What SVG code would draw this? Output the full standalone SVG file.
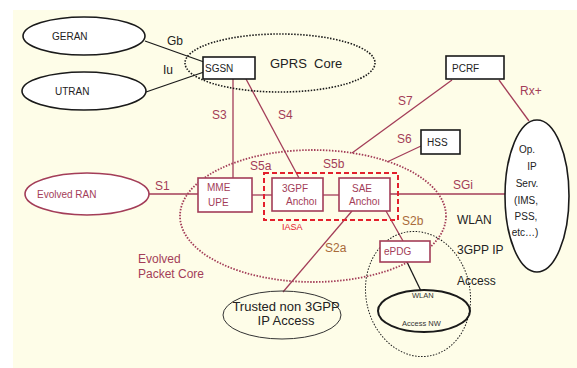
<svg xmlns="http://www.w3.org/2000/svg" width="577" height="368" viewBox="0 0 577 368">
<style>
text{font-family:"Liberation Sans",Arial,sans-serif;}
.blk{stroke:#1a1a1a;fill:#fff;stroke-width:1.6;}
.rbox{stroke:#a33d58;fill:#fff;stroke-width:1.6;}
.rl{stroke:#a33d58;stroke-width:1.3;fill:none;}
.bl{stroke:#1a1a1a;stroke-width:1.3;fill:none;}
.rt{fill:#a33d58;font-size:12px;}
.bt{fill:#222;font-size:10px;}
.ot{fill:#a86a3a;font-size:12px;}
</style>
<rect x="13" y="10" width="564" height="358" fill="#fefde8"/>
<g id="connectors">
<line class="bl" x1="145" y1="41" x2="204" y2="62"/>
<line class="bl" x1="146" y1="92" x2="204" y2="72"/>
<line class="rl" x1="233" y1="79" x2="233" y2="178"/>
<line class="rl" x1="246" y1="79" x2="299" y2="178"/>
<line class="rl" x1="148" y1="194" x2="198" y2="194"/>
<line class="rl" x1="252" y1="195" x2="272" y2="195"/>
<line class="rl" x1="323" y1="195" x2="339" y2="195"/>
<line class="rl" x1="390" y1="194" x2="506" y2="194"/>
<line class="rl" x1="452" y1="80" x2="352" y2="153"/>
<line class="rl" x1="421" y1="146" x2="387" y2="162"/>
<line class="rl" x1="499" y1="80" x2="529" y2="121"/>
<line class="rl" x1="352" y1="211" x2="283" y2="292"/>
<line class="rl" x1="386" y1="211" x2="403" y2="241"/>
<line class="bl" x1="407" y1="262" x2="421" y2="291"/>
<text class="bt" x="167" y="45" style="font-size:12px">Gb</text>
<text class="bt" x="163" y="74" style="font-size:12px">Iu</text>
<text class="rt" x="212" y="119">S3</text>
<text class="rt" x="278" y="119">S4</text>
<text class="rt" x="155" y="190">S1</text>
<text class="rt" x="250" y="170">S5a</text>
<text class="rt" x="323" y="168">S5b</text>
<text class="rt" x="398" y="105">S7</text>
<text class="rt" x="397" y="143">S6</text>
<text class="rt" x="520" y="95">Rx+</text>
<text class="rt" x="453" y="189">SGi</text>
<text class="ot" x="402" y="225">S2b</text>
<text class="ot" x="325" y="252">S2a</text>
</g>
<g id="gprs-core">
<ellipse cx="280" cy="63" rx="95" ry="29" fill="none" stroke="#1a1a1a" stroke-width="1.6" stroke-dasharray="1.5 1.5"/>
<text x="270" y="68" fill="#222" font-size="13" style="white-space:pre">GPRS  Core</text>
</g>
<g id="evolved-packet-core">
<ellipse cx="313" cy="216" rx="133" ry="66" fill="none" stroke="#a33d58" stroke-width="1.8" stroke-dasharray="1.5 1.5"/>
<text class="rt" x="138" y="263" font-size="12">Evolved</text>
<text class="rt" x="138" y="278" font-size="12">Packet Core</text>
</g>
<g id="wlan-area">
<ellipse cx="418" cy="294" rx="52" ry="63" transform="rotate(-12 418 294)" fill="none" stroke="#1a1a1a" stroke-width="1" stroke-dasharray="1.5 1.5"/>
</g>
<g id="geran">
<ellipse class="blk" cx="84" cy="36" rx="61" ry="19"/>
<text class="bt" x="52" y="40">GERAN</text>
</g>
<g id="utran">
<ellipse class="blk" cx="84" cy="91" rx="62" ry="19"/>
<text class="bt" x="55" y="95">UTRAN</text>
</g>
<g id="sgsn">
<rect class="blk" x="203" y="57" width="52" height="22"/>
<text class="bt" x="205" y="72">SGSN</text>
</g>
<g id="pcrf">
<rect class="blk" x="446" y="56" width="58" height="23"/>
<text class="bt" x="452" y="72">PCRF</text>
</g>
<g id="hss">
<rect class="blk" x="421" y="130" width="39" height="24"/>
<text class="bt" x="427" y="146">HSS</text>
</g>
<g id="op-ip-serv">
<ellipse class="blk" cx="537" cy="196" rx="32" ry="76"/>
<text class="bt" x="527" y="153" text-anchor="middle">Op.</text>
<text class="bt" x="532" y="170" text-anchor="middle">IP</text>
<text class="bt" x="527" y="187" text-anchor="middle">Serv.</text>
<text class="bt" x="526" y="204" text-anchor="middle">(IMS,</text>
<text class="bt" x="526" y="220" text-anchor="middle">PSS,</text>
<text class="bt" x="525" y="236" text-anchor="middle">etc…)</text>
</g>
<g id="evolved-ran">
<ellipse cx="87" cy="194" rx="62" ry="21" fill="#fff" stroke="#a33d58" stroke-width="1.6"/>
<text class="rt" x="37" y="198" font-size="10" style="font-size:10px">Evolved RAN</text>
</g>
<g id="mme-upe">
<rect class="rbox" x="198" y="178" width="54" height="34"/>
<text class="rt" x="207" y="191" style="font-size:10px">MME</text>
<text class="rt" x="208" y="206" style="font-size:10px">UPE</text>
</g>
<g id="iasa">
<rect x="264" y="173" width="134" height="47" fill="none" stroke="#e3202c" stroke-width="2" stroke-dasharray="5 3"/>
<text x="282" y="230" fill="#e3202c" font-size="9">IASA</text>
</g>
<g id="3gpf-anchor">
<rect class="rbox" x="272" y="178" width="51" height="33"/>
<text class="rt" x="282" y="192" style="font-size:10px">3GPF</text>
<text class="rt" x="286" y="205" style="font-size:10px">Anchoı</text>
</g>
<g id="sae-anchor">
<rect class="rbox" x="339" y="178" width="51" height="33"/>
<text class="rt" x="352" y="192" style="font-size:10px">SAE</text>
<text class="rt" x="349" y="205" style="font-size:10px">Anchoı</text>
</g>
<g id="epdg">
<rect class="rbox" x="380" y="241" width="50" height="21"/>
<text class="rt" x="384" y="255" style="font-size:10px">ePDG</text>
</g>
<g id="wlan-access-nw">
<ellipse cx="424" cy="311" rx="46" ry="21" fill="none" stroke="#1a1a1a" stroke-width="2"/>
<text x="412" y="298" fill="#333" font-size="7.5">WLAN</text>
<text x="402" y="326" fill="#333" font-size="7.5">Access NW</text>
</g>
<g id="trusted-non-3gpp">
<ellipse cx="282" cy="315" rx="59" ry="24" fill="none" stroke="#333" stroke-width="1"/>
<text x="286" y="311" fill="#222" font-size="13" text-anchor="middle">Trusted non 3GPP</text>
<text x="286" y="325" fill="#222" font-size="13" text-anchor="middle">IP Access</text>
</g>
<g id="side-labels">
<text x="457" y="224" fill="#222" font-size="12">WLAN</text>
<text x="457" y="254" fill="#222" font-size="12">3GPP IP</text>
<text x="457" y="285" fill="#222" font-size="12">Access</text>
</g>
</svg>
